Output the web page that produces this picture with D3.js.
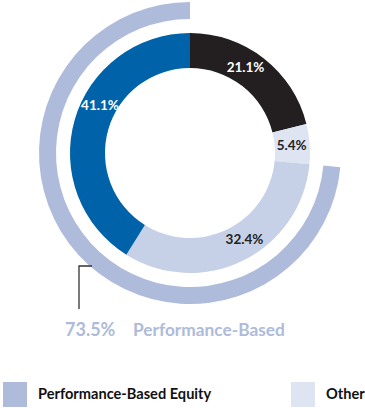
<!DOCTYPE html>
<html><head><meta charset="utf-8">
<script src="https://cdn.jsdelivr.net/npm/d3@7"></script>
<style>body{margin:0;background:#fff}svg{display:block}text{font-family:Lato,"Open Sans",sans-serif;font-weight:bold}</style>
</head><body>
<svg id="c" width="365" height="408"></svg>
<script>
const categories = ["Other A", "Other", "Performance-Based Equity", "Performance-Based Cash"];
const values = [21.1, 5.4, 32.4, 41.1];
const sliceColors = ["#231f20", "#dee4f1", "#c6d1e7", "#0063a9"];
const labelColors = ["#ffffff", "#222222", "#222222", "#ffffff"];
const groupLabel = "Performance-Based";
const groupValue = 73.5;
const legendItems = ["Performance-Based Equity", "Other"];
const legendColors = ["#aebbdb", "#dee4f1"];

const svg = d3.select("#c");
const cx = 190, cy = 153;
const g = svg.append("g").attr("transform", `translate(${cx},${cy})`);

const pie = d3.pie().sort(null).value(d => d);
const arcs = pie(values);
const arc = d3.arc().innerRadius(85).outerRadius(120);
g.selectAll("path.s").data(arcs).join("path").attr("class","s")
  .attr("d", arc).attr("fill", (d,i) => sliceColors[i]);

// outer group ring
const total = d3.sum(values);
const ang = d3.scaleLinear().domain([0,total]).range([0, 2*Math.PI]);
const ringArc = d3.arc().innerRadius(134).outerRadius(151);
g.append("path").attr("d", ringArc({startAngle: 2*Math.PI - ang(groupValue), endAngle: 2*Math.PI}))
  .attr("fill", "#aebbdb");

// labels
const labelShift = [-5, 0, -6, 12]; // degrees
const lr = 102;
g.selectAll("text.l").data(arcs).join("text").attr("class","l")
  .attr("x", (d,i) => { const a = (d.startAngle+d.endAngle)/2 + labelShift[i]*Math.PI/180; return lr*Math.sin(a); })
  .attr("y", (d,i) => { const a = (d.startAngle+d.endAngle)/2 + labelShift[i]*Math.PI/180; return -lr*Math.cos(a); })
  .attr("text-anchor","middle").attr("dy","0.35em")
  .attr("font-size", 13.5).attr("fill", (d,i) => labelColors[i])
  .text(d => d.data.toFixed(1) + "%");

// leader line
svg.append("path").attr("d", `M${cx-98},${cy+113}H${cx-111}V${cy+156}`)
  .attr("fill","none").attr("stroke","#333").attr("stroke-width",1.3);

svg.append("text").attr("x", 65).attr("y", 336).attr("font-size", 18).attr("fill","#aebbdb")
  .text(groupValue.toFixed(1) + "%");
svg.append("text").attr("x", 133).attr("y", 336).attr("font-size", 17.3).attr("fill","#aebbdb")
  .text(groupLabel);

// legend
const lg = svg.append("g");
const lxs = [3, 291];
legendItems.forEach((t,i) => {
  lg.append("rect").attr("x", lxs[i]).attr("y", 382).attr("width", 24).attr("height", 25).attr("fill", legendColors[i]);
  lg.append("text").attr("x", lxs[i]+35).attr("y", 399).attr("font-size", 14.6).attr("fill","#111").text(t);
});
</script>
</body></html>
